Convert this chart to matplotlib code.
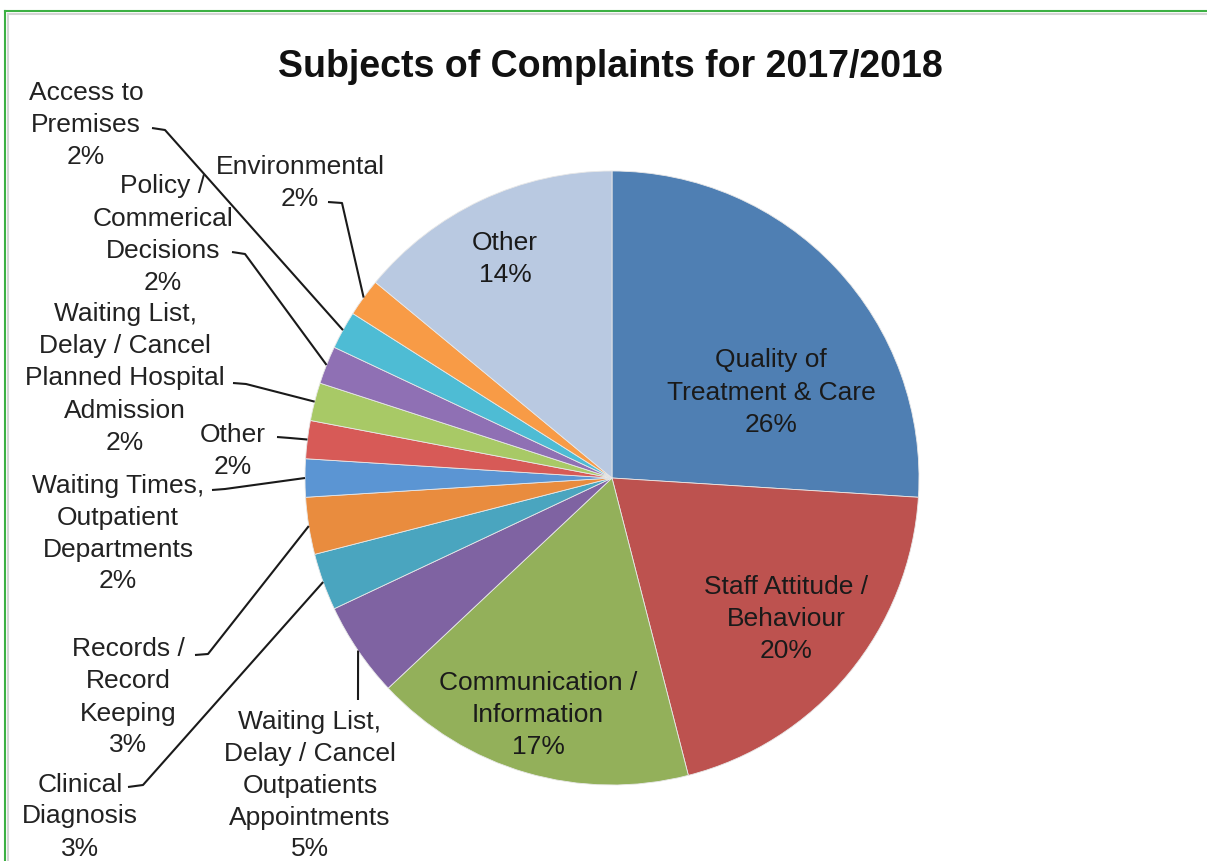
import matplotlib
matplotlib.use('Agg')
import matplotlib.pyplot as plt
import numpy as np

plt.rcParams['font.family'] = ['Liberation Sans', 'DejaVu Sans']

# complaint subjects, clockwise from 12 o'clock
subjects = [
    'Quality of\nTreatment & Care',
    'Staff Attitude /\nBehaviour',
    'Communication /\nInformation',
    'Waiting List,\nDelay / Cancel\nOutpatients\nAppointments',
    'Clinical\nDiagnosis',
    'Records /\nRecord\nKeeping',
    'Waiting Times,\nOutpatient\nDepartments',
    'Other',
    'Waiting List,\nDelay / Cancel\nPlanned Hospital\nAdmission',
    'Policy /\nCommerical\nDecisions',
    'Access to\nPremises',
    'Environmental',
    'Other',
]
percent = [26, 20, 17, 5, 3, 3, 2, 2, 2, 2, 2, 2, 14]
slice_colors = ['#4f7fb3', '#bd524f', '#93b05a', '#7f63a2', '#4aa5bf', '#e98c3e',
                '#5b95d3', '#d75a57', '#a8c966', '#8f70b4', '#4ebcd4', '#f89b46',
                '#b9c9e1']

W, H = 1207, 861
cx, cy, R = 612, 478, 307

fig = plt.figure(figsize=(W / 100, H / 100), dpi=100)
ax = fig.add_axes([0, 0, 1, 1])

# y axis runs downwards, so counterclock=True turns clockwise on screen
wedges, _ = ax.pie(percent, colors=slice_colors, startangle=-90, counterclock=True,
                   center=(cx, cy), radius=R,
                   wedgeprops=dict(edgecolor='#e8e8e8', linewidth=0.6))
ax.set_xlim(0, W)
ax.set_ylim(H, 0)
ax.set_aspect('auto')
ax.axis('off')

# text block centres (pixels)
inside_pos = {0: (771, 390), 1: (786, 617), 2: (538, 713), 12: (505, 256)}
outside_pos = {3: (310, 783), 4: (80, 814), 5: (128, 695), 6: (118, 531),
               7: (233, 448), 8: (125, 376), 9: (163, 232), 10: (86, 122),
               11: (300, 181)}
# leader line: start next to the text, then elbow, then slice edge
leaders = {3: [(358, 700)],
           4: [(128, 787), (143, 785)],
           5: [(195, 655), (208, 654)],
           6: [(212, 490), (225, 489)],
           7: [(277, 437), (290, 438)],
           8: [(233, 383), (246, 384)],
           9: [(232, 252), (245, 254)],
           10: [(152, 128), (165, 130)],
           11: [(328, 202), (342, 203)]}

fs = 19
step = 32


def put_block(x, y, text, color):
    # one text per line so the spacing is fixed in pixels
    lines = text.split('\n')
    n = len(lines)
    for k, line in enumerate(lines):
        ly = y + (k - (n - 1) / 2) * step
        ax.text(x, ly + 9.5, line, ha='center', va='baseline', fontsize=fs,
                color=color)


for i, w in enumerate(wedges):
    label = f'{subjects[i]}\n{percent[i]}%'
    if i in inside_pos:
        x, y = inside_pos[i]
        put_block(x, y, label, '#1a1a1a')
    else:
        x, y = outside_pos[i]
        put_block(x, y, label, '#222222')
        mid = np.deg2rad((w.theta1 + w.theta2) / 2)
        ex, ey = cx + R * np.cos(mid), cy + R * np.sin(mid)
        pts = leaders[i] + [(ex, ey)]
        ax.plot([p[0] for p in pts], [p[1] for p in pts], color='#1a1a1a',
                linewidth=1.5, solid_capstyle='butt')

ax.text(610, 77, 'Subjects of Complaints for 2017/2018', ha='center', va='baseline',
        fontsize=27, fontweight='bold', color='#111111')

# frame around the chart
ax.plot([5, W], [11, 11], color='#3cb043', linewidth=1.5)
ax.plot([5, 5], [11, H], color='#3cb043', linewidth=1.5)
ax.plot([7.5, W], [13.5, 13.5], color='#d4d4d4', linewidth=1.5)
ax.plot([7.5, 7.5], [13.5, H], color='#d4d4d4', linewidth=1.5)

fig.savefig('out.png', dpi=100)
